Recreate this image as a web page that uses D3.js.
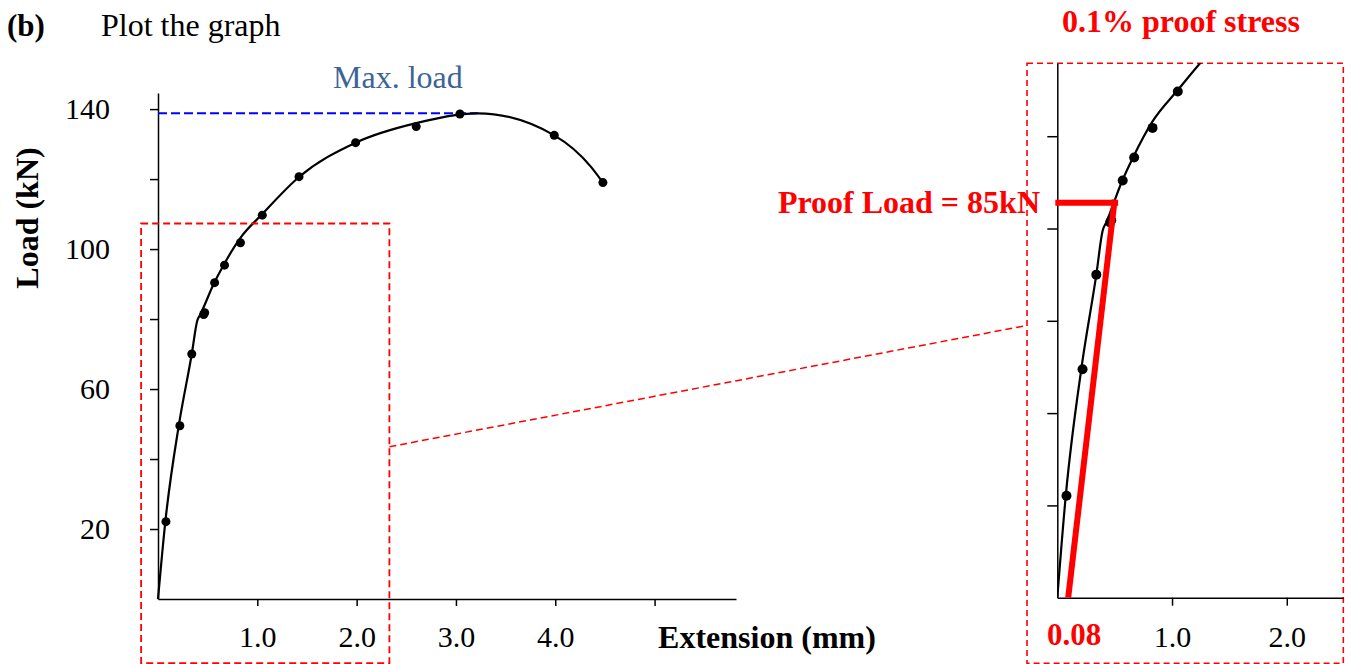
<!DOCTYPE html>
<html>
<head>
<meta charset="utf-8">
<script src="https://cdn.jsdelivr.net/npm/d3@7"></script>
<style>
  body { margin: 0; background: #fff; }
  svg { display: block; font-family: "Liberation Serif", "Times New Roman", serif; }
  .axis path, .axis line { stroke: #000; stroke-width: 1.5; }
  .axis text { font-size: 30px; fill: #000; font-family: "Liberation Serif", serif; }
</style>
</head>
<body>
<svg id="chart" width="1355" height="664"></svg>
<script>
// measured points (extension in mm, load in kN)
var pointExt  = [0.08, 0.22, 0.34, 0.46, 0.47, 0.57, 0.67, 0.83, 1.05, 1.42, 1.99, 2.60, 3.04, 3.99, 4.48];
var pointLoad = [22.1, 49.5, 70.0, 81.3, 81.8, 90.4, 95.4, 101.8, 109.7, 120.7, 130.4, 135.0, 138.6, 132.5, 119.0];

// hand drawn curve through the points
var curveExt  = [0, 0.075, 0.21, 0.34, 0.395, 0.43, 0.565, 0.66, 0.83, 1.05, 1.42, 1.99, 2.60, 3.22, 3.99, 4.36, 4.48];
var curveLoad = [0, 22.4, 49.7, 70.0, 79.5, 81.5, 90.3, 95.4, 103.2, 110.0, 120.6, 130.4, 136.0, 138.8, 132.5, 123.5, 119.0];

var yTickValues = [20, 40, 60, 80, 100, 120, 140];
var yTickLabels = ['20', '', '60', '', '100', '', '140'];
var xTickValues = [1, 2, 3, 4, 5];
var xTickLabels = ['1.0', '2.0', '3.0', '4.0', ''];

var insetYTicks = [20, 40, 60, 80, 100];
var insetXTicks = [1, 2];
var insetXLabels = ['1.0', '2.0'];

var maxLoad = 138.8;
var maxLoadExt = 3.22;
var proofLoad = 85.6;
var offsetStartExt = 0.095;   // drawn offset, labelled 0.08
var offsetTopExt = 0.50;

var svg = d3.select('#chart');
var red = '#ff0000';

// ---------- main chart ----------
var x = d3.scaleLinear().domain([0, 5.82]).range([158, 736]);
var y = d3.scaleLinear().domain([0, 144.6]).range([599, 93]);

svg.append('g')
    .attr('class', 'axis')
    .attr('transform', 'translate(' + x(0) + ',0)')
    .call(d3.axisLeft(y)
      .tickValues(yTickValues)
      .tickSize(8).tickSizeOuter(0).tickPadding(40)
      .tickFormat(function(d, i) { return yTickLabels[i]; }));

svg.append('g')
    .attr('class', 'axis')
    .attr('transform', 'translate(0,' + y(0) + ')')
    .call(d3.axisBottom(x)
      .tickValues(xTickValues)
      .tickSize(7).tickSizeOuter(0).tickPadding(20)
      .tickFormat(function(d, i) { return xTickLabels[i]; }));

// max load dashed line
svg.append('line')
    .attr('x1', x(0)).attr('x2', x(maxLoadExt))
    .attr('y1', y(maxLoad)).attr('y2', y(maxLoad))
    .attr('stroke', '#0000ff').attr('stroke-width', 2)
    .attr('stroke-dasharray', '9,4');

var line = d3.line()
    .x(function(d) { return x(d[0]); })
    .y(function(d) { return y(d[1]); })
    .curve(d3.curveMonotoneX);

var curvePts = d3.zip(curveExt, curveLoad);
var pts = d3.zip(pointExt, pointLoad);

svg.append('path')
    .datum(curvePts)
    .attr('d', line)
    .attr('fill', 'none')
    .attr('stroke', '#000')
    .attr('stroke-width', 2.2);

svg.append('g').selectAll('circle')
    .data(pts)
    .enter().append('circle')
    .attr('cx', function(d) { return x(d[0]); })
    .attr('cy', function(d) { return y(d[1]); })
    .attr('r', 4.5)
    .attr('fill', '#000');

// zoom box round the elastic part
var boxExt = [-0.17, 2.33];
var boxLoad = [-18.3, 107.3];
svg.append('rect')
    .attr('x', x(boxExt[0])).attr('y', y(boxLoad[1]))
    .attr('width', x(boxExt[1]) - x(boxExt[0]))
    .attr('height', y(boxLoad[0]) - y(boxLoad[1]))
    .attr('fill', 'none').attr('stroke', red)
    .attr('stroke-width', 1.8).attr('stroke-dasharray', '7,4');

// ---------- inset ----------
var ix = d3.scaleLinear().domain([0, 2.49]).range([1057.3, 1343]);
var iy = d3.scaleLinear().domain([0, 115.8]).range([597.7, 63.3]);

svg.append('line')
    .attr('x1', x(boxExt[1])).attr('y1', y(43.5))
    .attr('x2', 1027).attr('y2', iy(59))
    .attr('stroke', red).attr('stroke-width', 1.5)
    .attr('stroke-dasharray', '7,4');

svg.append('rect')
    .attr('x', 1027).attr('y', 63.3)
    .attr('width', 316.3).attr('height', 600)
    .attr('fill', 'none').attr('stroke', red)
    .attr('stroke-width', 1.6).attr('stroke-dasharray', '6,4');

svg.append('clipPath').attr('id', 'insetClip')
  .append('rect')
    .attr('x', ix(0)).attr('y', iy(115.8))
    .attr('width', ix(2.49) - ix(0))
    .attr('height', iy(0) - iy(115.8));

svg.append('g')
    .attr('class', 'axis')
    .attr('transform', 'translate(' + ix(0) + ',0)')
    .call(d3.axisLeft(iy)
      .tickValues(insetYTicks)
      .tickSize(10).tickSizeOuter(0)
      .tickFormat(''));

svg.append('g')
    .attr('class', 'axis')
    .attr('transform', 'translate(0,' + iy(0) + ')')
    .call(d3.axisBottom(ix)
      .tickValues(insetXTicks)
      .tickSize(8).tickSizeOuter(0).tickPadding(20)
      .tickFormat(function(d, i) { return insetXLabels[i]; }));

var insetG = svg.append('g').attr('clip-path', 'url(#insetClip)');

var insetLine = d3.line()
    .x(function(d) { return ix(d[0]); })
    .y(function(d) { return iy(d[1]); })
    .curve(d3.curveMonotoneX);

insetG.append('path')
    .datum(curvePts)
    .attr('d', insetLine)
    .attr('fill', 'none')
    .attr('stroke', '#000')
    .attr('stroke-width', 2.2);

insetG.selectAll('circle')
    .data(pts)
    .enter().append('circle')
    .attr('cx', function(d) { return ix(d[0]); })
    .attr('cy', function(d) { return iy(d[1]); })
    .attr('r', 5)
    .attr('fill', '#000');

// 0.1% offset line and proof load
svg.append('line')
    .attr('x1', ix(0) - 2).attr('x2', ix(offsetTopExt + 0.03))
    .attr('y1', iy(proofLoad)).attr('y2', iy(proofLoad))
    .attr('stroke', red).attr('stroke-width', 6);

svg.append('line')
    .attr('x1', ix(offsetStartExt)).attr('y1', iy(0))
    .attr('x2', ix(offsetTopExt)).attr('y2', iy(proofLoad) - 3)
    .attr('stroke', red).attr('stroke-width', 6);

// ---------- texts ----------
svg.append('text')
    .attr('x', 7).attr('y', 36)
    .attr('font-size', 31).attr('font-weight', 'bold')
    .text('(b)');

svg.append('text')
    .attr('x', 101).attr('y', 36)
    .attr('font-size', 32)
    .text('Plot the graph');

svg.append('text')
    .attr('x', 333).attr('y', 88)
    .attr('font-size', 32).attr('fill', '#3c6496')
    .text('Max. load');

svg.append('text')
    .attr('transform', 'translate(38,218) rotate(-90)')
    .attr('text-anchor', 'middle')
    .attr('font-size', 32).attr('font-weight', 'bold')
    .text('Load (kN)');

svg.append('text')
    .attr('x', 767).attr('y', 648)
    .attr('text-anchor', 'middle')
    .attr('font-size', 32).attr('font-weight', 'bold')
    .text('Extension (mm)');

svg.append('text')
    .attr('x', 1181).attr('y', 32)
    .attr('text-anchor', 'middle')
    .attr('font-size', 32).attr('font-weight', 'bold').attr('fill', red)
    .text('0.1% proof stress');

svg.append('text')
    .attr('x', 1040).attr('y', 213)
    .attr('text-anchor', 'end')
    .attr('font-size', 32).attr('font-weight', 'bold').attr('fill', red)
    .text('Proof Load = 85kN');

svg.append('text')
    .attr('x', 1074).attr('y', 645)
    .attr('text-anchor', 'middle')
    .attr('font-size', 31).attr('font-weight', 'bold').attr('fill', red)
    .text('0.08');
</script>
</body>
</html>
